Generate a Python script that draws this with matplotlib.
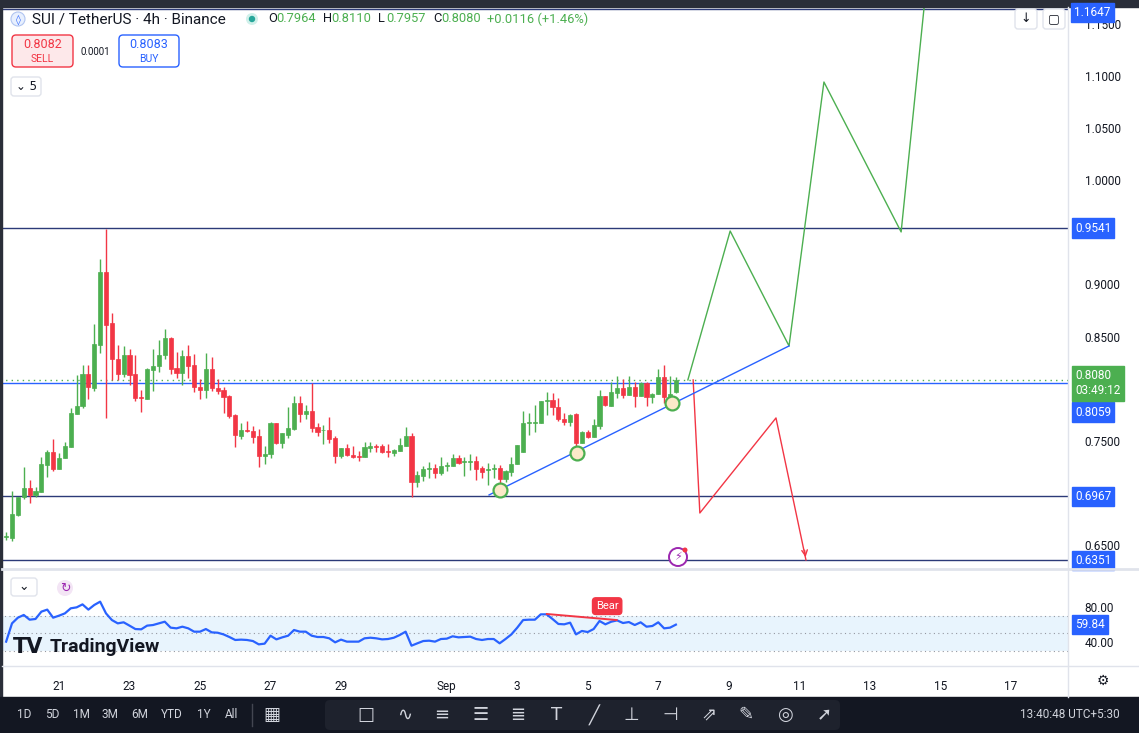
import matplotlib
matplotlib.use("Agg")
import matplotlib.pyplot as plt
from matplotlib.patches import Rectangle, FancyBboxPatch, Circle
import numpy as np

plt.rcParams['font.family'] = ['Roboto', 'DejaVu Sans']

# ---------------- data ----------------
opens = [.658,.657,.679,.696,.705,.698,.701,.727,.739,.723,.733,.744,.776,.783,.814,.801,.842,.912,.863,.828,
         .814,.832,.814,.792,.790,.818,.822,.832,.849,.820,.815,.831,.823,.802,.799,.819,.801,.799,.793,.775,
         .755,.760,.759,.755,.735,.737,.767,.748,.756,.761,.786,.776,.779,.763,.760,.760,.753,.735,.743,.736,
         .735,.734,.743,.745,.745,.740,.738,.740,.745,.755,.710,.716,.723,.724,.719,.726,.726,.733,.730,.730,
         .731,.724,.722,.723,.724,.713,.720,.728,.739,.767,.767,.767,.788,.789,.782,.771,.768,.776,.748,.758,
         .754,.764,.793,.783,.796,.801,.794,.802,.793,.805,.792,.795,.811,.792,.7964]
closes = [.658,.680,.696,.705,.698,.702,.728,.739,.723,.733,.745,.777,.783,.814,.802,.843,.912,.861,.828,.814,
          .832,.813,.791,.791,.819,.822,.832,.849,.819,.815,.831,.822,.802,.799,.819,.801,.798,.792,.774,.756,
          .760,.759,.754,.735,.737,.767,.748,.757,.762,.786,.776,.779,.762,.758,.760,.752,.735,.743,.736,.734,
          .734,.744,.745,.744,.739,.739,.741,.746,.755,.710,.717,.723,.724,.719,.726,.727,.733,.729,.730,.731,
          .723,.720,.723,.724,.713,.721,.728,.746,.767,.767,.768,.788,.789,.782,.771,.768,.775,.748,.758,.754,
          .765,.793,.784,.797,.801,.794,.802,.793,.805,.792,.795,.811,.792,.795,.808]
highs = [.662,.702,.696,.725,.712,.706,.734,.741,.752,.738,.749,.781,.813,.823,.823,.862,.924,.953,.873,.842,
         .841,.838,.832,.799,.820,.838,.847,.857,.850,.835,.837,.842,.833,.809,.834,.830,.809,.802,.794,.776,
         .767,.769,.764,.761,.745,.768,.767,.757,.782,.793,.793,.784,.805,.767,.765,.773,.755,.743,.747,.745,
         .740,.749,.749,.747,.747,.747,.742,.753,.763,.757,.721,.726,.730,.728,.734,.730,.737,.736,.734,.737,
         .735,.726,.729,.728,.727,.722,.734,.746,.779,.777,.784,.788,.797,.796,.791,.777,.776,.777,.759,.760,
         .771,.799,.793,.806,.812,.809,.812,.806,.806,.806,.796,.819,.823,.812,.811]
lows = [.655,.654,.678,.694,.690,.696,.701,.715,.721,.723,.733,.744,.776,.781,.790,.798,.834,.772,.808,.808,
        .811,.804,.788,.778,.790,.798,.816,.828,.814,.810,.804,.810,.797,.790,.791,.798,.795,.777,.772,.744,
        .752,.758,.748,.725,.728,.733,.747,.743,.753,.760,.768,.771,.758,.755,.747,.748,.729,.733,.735,.733,
        .731,.734,.739,.739,.738,.734,.735,.740,.745,.696,.706,.711,.714,.714,.717,.721,.726,.728,.716,.722,
        .712,.714,.708,.714,.704,.710,.716,.728,.739,.756,.758,.767,.775,.775,.769,.765,.764,.742,.748,.753,
        .754,.761,.783,.783,.791,.791,.794,.782,.793,.783,.786,.795,.786,.789,.7957]
rsi = [40.4,61.3,67.8,70.9,65.5,66.3,74.7,77.0,67.8,70.1,72.7,78.5,79.6,83.0,77.0,82.3,86.1,72.7,65.1,61.3,
       62.5,58.7,54.8,54.5,58.7,59.4,61.3,63.2,56.4,55.6,57.5,55.6,51.8,51.8,54.8,51.0,50.6,48.7,45.7,42.3,
       42.7,42.3,41.1,37.3,38.1,47.2,43.0,45.3,47.2,53.7,51.8,51.8,47.2,45.7,45.7,44.2,39.6,42.7,40.4,
       40.4,40.4,44.2,44.9,44.2,43.0,43.4,44.9,48.0,51.8,35.8,38.5,41.1,41.5,40.4,43.4,43.8,46.5,45.3,45.7,
       46.1,43.4,42.3,43.4,43.4,38.5,43.4,48.7,56.4,65.1,65.5,65.5,71.6,71.6,66.3,60.6,60.2,62.1,48.7,52.6,
       51.4,54.8,64.0,60.2,63.2,64.7,61.7,62.8,59.4,62.5,57.5,58.3,62.5,55.6,56.4,59.84]
first_day = -1.5          # days relative to Aug 21 of first 4h candle
candle_days = 1 / 6

h_levels = [1.1647, 0.9541, 0.6967, 0.6351]
last_price = 0.8080
bid_level = 0.8059
price_ticks = [0.65, 0.75, 0.85, 0.90, 1.00, 1.05, 1.10, 1.15]

# drawings (day, price)
green_path_d = [17.84, 19.04, 20.71, 21.70, 23.89, 24.54]
green_path_p = [0.8084, 0.9513, 0.8410, 1.0943, 0.9504, 1.1654]
red_path_d = [17.99, 18.18, 20.34, 21.19]
red_path_p = [0.8084, 0.6807, 0.7719, 0.6356]
trend_d = [12.20, 20.71]
trend_p = [0.698, 0.8410]
touch_d = [12.51, 14.70, 17.39]
touch_p = [0.7028, 0.7383, 0.7863]
div_d = [13.84, 15.82]
div_v = [72.0, 65.1]

date_pos = [0, 2, 4, 6, 8, 11, 13, 15, 17, 19, 21, 23, 25, 27]
date_lab = ['21', '23', '25', '27', '29', 'Sep', '3', '5', '7', '9', '11', '13', '15', '17']

GREEN = '#4caf50'; RED = '#f23645'; BLUE = '#2962ff'; TXT = '#131722'; GRAY = '#6a6d78'

W, H = 1139, 733
fig = plt.figure(figsize=(W / 100, H / 100), dpi=100)
fig.patch.set_facecolor('white')

def fa(x0, y0, x1, y1):
    return [x0 / W, 1 - y1 / H, (x1 - x0) / W, (y1 - y0) / H]

ax = fig.add_axes(fa(0, 0, 1068, 568))
ax.set_xlim(-1.674, 28.624)
ax.set_ylim(0.6279, 1.1730)
for s in ax.spines.values():
    s.set_visible(False)

n = len(closes)
days = [first_day + i * candle_days for i in range(n)]
bw = candle_days * 0.72
for d, o, h, l, c in zip(days, opens, highs, lows, closes):
    col = GREEN if c >= o else RED
    ax.vlines(d, l, h, color=col, lw=1, zorder=3)
    ax.add_patch(Rectangle((d - bw / 2, min(o, c)), bw, max(abs(c - o), 0.0008),
                           facecolor=col, edgecolor=col, lw=0.5, zorder=4))

for lv in h_levels:
    ax.axhline(lv, color='#2c3a78', lw=1, zorder=2)
ax.axhline(bid_level, color=BLUE, lw=1, zorder=2)
ax.axhline(last_price, color=GREEN, lw=1, ls=(0, (1, 3)), zorder=2)

ax.plot(green_path_d, green_path_p, color=GREEN, lw=1, zorder=5)
ax.plot(red_path_d, red_path_p, color=RED, lw=1, zorder=5)
ax.annotate('', xy=(red_path_d[-1], red_path_p[-1]), xytext=(red_path_d[-1] - 0.05, red_path_p[-1] + 0.012),
            arrowprops=dict(arrowstyle='->', color=RED, lw=1), zorder=5)
ax.plot(trend_d, trend_p, color=BLUE, lw=1, zorder=5)
for d, p in zip(touch_d, touch_p):
    ax.plot(d, p, 'o', ms=10, mfc='#fbe9c8', mec=GREEN, mew=1.6, zorder=6)

ax.set_yticks(price_ticks, [f'{t:.4f}' for t in price_ticks])
ax.yaxis.tick_right()
ax.tick_params(axis='y', length=0, pad=12, labelsize=8.5, labelcolor=TXT)
ax.set_xticks([])

def tag(y, text, col, axx=ax, fs=8.5):
    axx.text(1.0065, y, text, transform=axx.get_yaxis_transform(), ha='left', va='center',
             color='white', fontsize=fs, zorder=10, clip_on=False,
             bbox=dict(boxstyle='square,pad=0.28', fc=col, ec=col))

for lv in h_levels[1:]:
    tag(lv, f'{lv:.4f}', BLUE)
tag(bid_level - 0.0283, f'{bid_level:.4f}', BLUE)
tag(last_price - 0.0030, f'{last_price:.4f}\n03:49:12', GREEN)

# ---------------- RSI ----------------
rx = fig.add_axes(fa(0, 570, 1068, 665))
rx.set_xlim(-1.674, 28.624)
rx.set_ylim(13.7, 122.3)
for s in rx.spines.values():
    s.set_visible(False)
rx.axhspan(30, 70, color='#e3f2fd', alpha=0.8, lw=0)
for lv in (30, 50, 70):
    rx.axhline(lv, color='#9598a1', lw=0.8, ls=(0, (1, 3)))
rx.plot(days, rsi, color=BLUE, lw=1.6, zorder=4)
rx.plot(div_d, div_v, color=RED, lw=1.4, zorder=5)
rx.text(15.55, 81, 'Bear', ha='center', va='center', color='white', fontsize=8, zorder=6,
        bbox=dict(boxstyle='round,pad=0.3', fc=RED, ec=RED))
rx.set_yticks([80, 40], ['80.00', '40.00'])
rx.yaxis.tick_right()
rx.tick_params(axis='y', length=0, pad=12, labelsize=8.5, labelcolor=TXT)
tag(rsi[-1], f'{rsi[-1]:.2f}', BLUE, axx=rx)
rx.set_xticks(date_pos, date_lab)
rx.tick_params(axis='x', length=0, pad=11, labelsize=8.5, labelcolor=TXT)
rx.text(13 / 1068, 0.19, 'TV', transform=rx.transAxes, fontsize=15, fontweight='black', color=TXT, va='center',
        family='DejaVu Sans')
rx.text(50 / 1068, 0.19, 'TradingView', transform=rx.transAxes, fontsize=14, fontweight='bold', color=TXT,
        va='center')

# ---------------- UI overlay ----------------
ui = fig.add_axes([0, 0, 1, 1], zorder=20)
ui.set_xlim(0, W); ui.set_ylim(H, 0); ui.axis('off'); ui.patch.set_alpha(0)
ui.add_patch(Rectangle((0, 0), W, 7, color='#2a2e39'))
ui.add_patch(Rectangle((0, 0), 2, 697, color='#2a2e39'))
ui.plot([1068, 1068], [7, 697], color='#e0e3eb', lw=1)
ui.plot([2, 1139], [569, 569], color='#e0e3eb', lw=2)
ui.plot([2, 1139], [666, 666], color='#e0e3eb', lw=1)
ui.text(1074, 12.5, f'{h_levels[0]:.4f}', ha='left', va='center', color='white', fontsize=8.5,
        bbox=dict(boxstyle='square,pad=0.28', fc=BLUE, ec=BLUE))
# lightning icon
ui.add_patch(Circle((678, 557), 9, fc='white', ec='#9c27b0', lw=1.4))
ui.text(678, 557.5, '⚡', ha='center', va='center', color='#9c27b0', fontsize=8, family='DejaVu Sans')
ui.add_patch(Circle((685, 550), 2.5, fc=RED, ec='none'))
# header
ui.add_patch(Circle((18, 19), 7, fc='#e8f0fe', ec='#b0c4f0', lw=0.8))
ui.text(18, 19.5, '◊', ha='center', va='center', fontsize=7, color=BLUE, family='DejaVu Sans')
ui.text(32, 19, 'SUI / TetherUS · 4h · Binance', va='center', fontsize=11, color=TXT)
ui.add_patch(Circle((252, 19), 6, fc='#d0f0ea', ec='none'))
ui.add_patch(Circle((252, 19), 3.2, fc='#26a69a', ec='none'))
x = 268
for lab, val in [('O', '0.7964'), ('H', '0.8110'), ('L', '0.7957'), ('C', '0.8080')]:
    ui.text(x, 19, lab, va='center', fontsize=9.3, color=TXT)
    ui.text(x + 8, 19, val, va='center', fontsize=9.3, color=GREEN)
    x += 55
ui.text(x - 1, 19, '+0.0116 (+1.46%)', va='center', fontsize=9.3, color=GREEN)
ui.add_patch(FancyBboxPatch((12, 35), 61, 32, boxstyle='round,pad=0,rounding_size=4', fc='#fde8ea', ec=RED, lw=1))
ui.text(42.5, 44, '0.8082', ha='center', va='center', fontsize=9, color=RED)
ui.text(42.5, 59, 'SELL', ha='center', va='center', fontsize=7.5, color=RED)
ui.text(95, 52, '0.0001', ha='center', va='center', fontsize=7, color=TXT)
ui.add_patch(FancyBboxPatch((119, 35), 60, 32, boxstyle='round,pad=0,rounding_size=4', fc='white', ec=BLUE, lw=1))
ui.text(149, 44, '0.8083', ha='center', va='center', fontsize=9, color=BLUE)
ui.text(149, 59, 'BUY', ha='center', va='center', fontsize=7.5, color=BLUE)
ui.add_patch(FancyBboxPatch((11, 77), 30, 19, boxstyle='round,pad=0,rounding_size=3', fc='white', ec='#e0e3eb', lw=1))
ui.text(26, 86.5, '⌄ 5', ha='center', va='center', fontsize=8.5, color=TXT, family='DejaVu Sans')
for bx, s in [(1026, '↓'), (1054, '▢')]:
    ui.add_patch(FancyBboxPatch((bx - 11, 9), 22, 20, boxstyle='round,pad=0,rounding_size=3', fc='white', ec='#e0e3eb', lw=1))
    ui.text(bx, 19, s, ha='center', va='center', fontsize=9, color=TXT, family='DejaVu Sans')
# rsi header
ui.add_patch(FancyBboxPatch((11, 578), 26, 18, boxstyle='round,pad=0,rounding_size=3', fc='white', ec='#e0e3eb', lw=1))
ui.text(24, 587, '⌄', ha='center', va='center', fontsize=9, color=TXT, family='DejaVu Sans')
ui.add_patch(Circle((65, 588), 8, fc='#f3e5f5', ec='none'))
ui.text(65, 588, '↻', ha='center', va='center', fontsize=9, color='#9c27b0', family='DejaVu Sans')
ui.text(1103, 681, '⚙', ha='center', va='center', fontsize=10, color=TXT, family='DejaVu Sans')
# bottom bar
ui.add_patch(Rectangle((0, 697), W, 36, color='#131722'))
ui.add_patch(FancyBboxPatch((325, 700), 515, 30, boxstyle='round,pad=0,rounding_size=5', fc='#1e222d', ec='none'))
for px, s in zip([24, 52, 81, 110, 140, 172, 204, 232], ['1D', '5D', '1M', '3M', '6M', 'YTD', '1Y', 'All']):
    ui.text(px, 715, s, ha='center', va='center', fontsize=8.5, color='#d1d4dc')
ui.plot([252, 252], [704, 726], color='#434651', lw=1)
icons = ['▦', '□', '∿', '≡', '☰', '≣', 'T', '╱', '⊥', '⊣', '⇗', '✎', '◎', '➚']
ixs = [272, 366, 405, 442, 481, 518, 557, 594, 631, 670, 709, 746, 785, 824]
for px, s in zip(ixs, icons):
    ui.text(px, 715, s, ha='center', va='center', fontsize=13, color='#d1d4dc', family='DejaVu Sans')
ui.text(1070, 715, '13:40:48 UTC+5:30', ha='center', va='center', fontsize=8.5, color='#d1d4dc')

fig.savefig('out.png', dpi=100)
